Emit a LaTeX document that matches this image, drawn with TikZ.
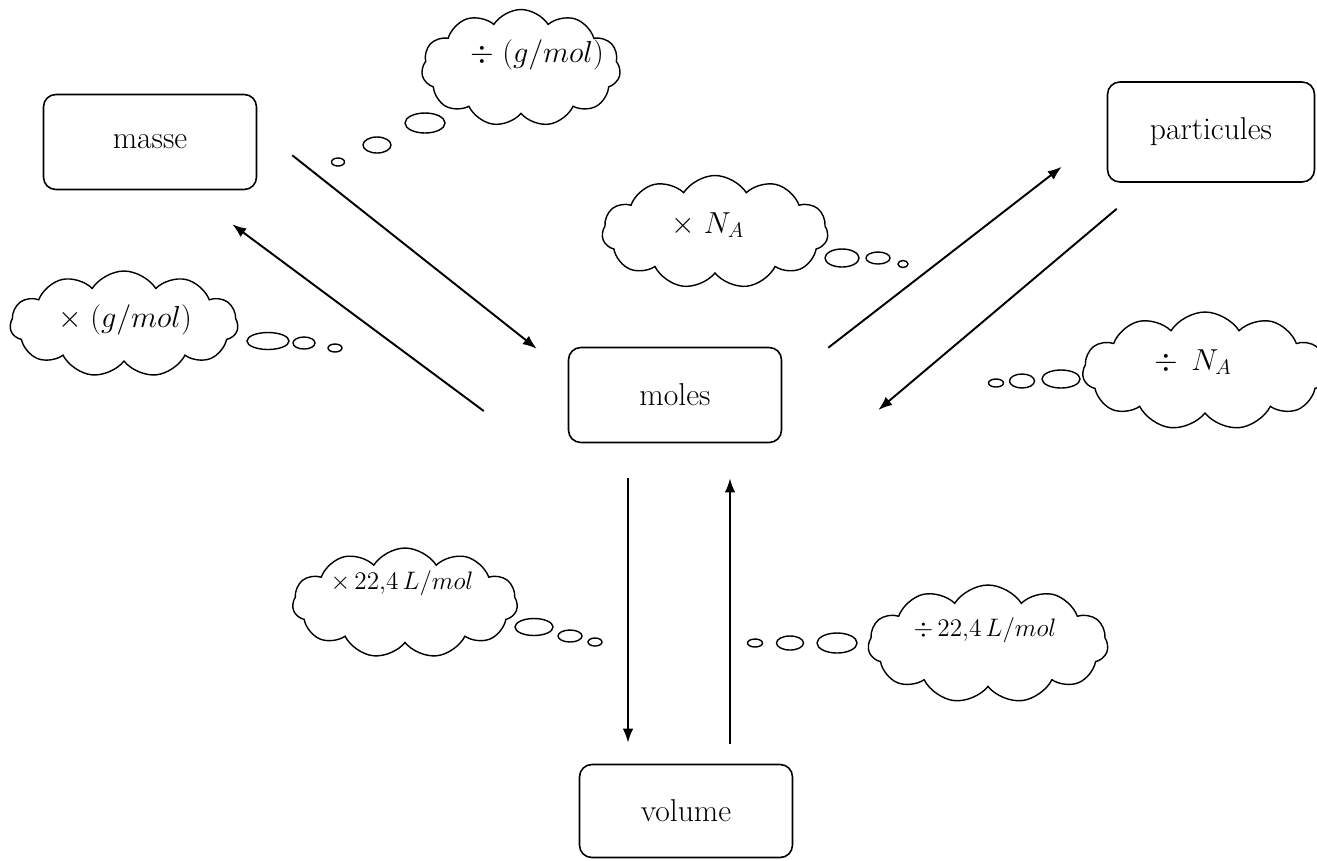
\documentclass[tikz,border=0pt]{standalone}
\usetikzlibrary{arrows.meta,shapes.symbols,calc}
\begin{document}
\begin{tikzpicture}[x=0.02cm,y=-0.02cm,
  box/.style={draw,rounded corners=7pt,line width=0.9pt,
    font=\fontsize{18}{21}\selectfont,minimum width=4.26cm,minimum height=1.9cm},
  thought/.style={draw,cloud,cloud puffs=11,cloud puff arc=115,
    cloud ignores aspect,line width=0.8pt,inner sep=0pt},
  bubble/.style={line width=0.8pt},
  rule/.style={font=\fontsize{18}{21}\selectfont},
  small/.style={font=\fontsize{14}{17}\selectfont},
  flow/.style={-{Latex[length=2.8mm,width=2.1mm]},line width=1.1pt}]
\useasboundingbox (0,0) rectangle (1317,860);
% the four quantities
\node[box] (masse) at (150,142) {masse};
\node[box,minimum width=4.14cm,minimum height=2cm] (part) at (1211,132) {particules};
\node[box] (moles) at (675,395) {moles};
\node[box,minimum height=1.86cm] (volume) at (686,811) {volume};
% thought clouds
\node[thought,minimum width=3.98cm,minimum height=2.34cm] (cdivm) at (521,68) {};
\node[rule] (tdivm) at (537,55) {$\div\;(g/mol)$};
\node[thought,minimum width=4.52cm,minimum height=2.26cm] (cmulna) at (715,232) {};
\node[rule] (tmulna) at (708,225) {$\times\;N_A$};
\node[thought,minimum width=4.56cm,minimum height=2.12cm] (cmulm) at (124,324) {};
\node[rule] (tmulm) at (125,320) {$\times\;(g/mol)$};
\node[thought,minimum width=4.9cm,minimum height=2.36cm] (cdivna) at (1205,371) {};
\node[rule] (tdivna) at (1193,362) {$\div\;\,N_A$};
\node[thought,minimum width=4.5cm,minimum height=2.2cm] (cmulv) at (405,603) {};
\node[small] (tmulv) at (402,583) {$\times\,22{,}4\,L/mol$};
\node[thought,minimum width=4.8cm,minimum height=2.36cm] (cdivv) at (988,644) {};
\node[small] (tdivv) at (985,630) {$\div\,22{,}4\,L/mol$};
% small bubbles
\foreach \cx/\cy/\rx/\ry in {425/123/20/10, 377/145/14/8, 338/162/6.5/4,
    842/258/17/9, 878/258/12/6, 903/264/5/3.5,
    268/341/21/8.5, 304/343/11/6, 335/348/7/4,
    1061/379/19/9, 1022/381/12.5/7, 996/383/7.5/4,
    534/627/19/8.5, 570/636/12/6, 595/642/7/4,
    837/643/20/10, 790/643/13.5/7, 755/643/7.5/4}
  \draw[bubble] (\cx,\cy) ellipse [x radius=\rx, y radius=\ry];
% conversions
\draw[flow] ($(masse.south east)+(35,-35)$) -- ($(moles.north west)+(-31,2)$);
\draw[flow] ($(moles.west)+(-84,16)$) -- ($(masse.south east)+(-25,34)$);
\draw[flow] ($(moles.north east)+(46,1)$) -- ($(part.south west)+(-45,-16)$);
\draw[flow] ($(part.south west)+(10,26)$) -- ($(moles.east)+(96,15)$);
\draw[flow] ($(moles.south)+(-47,35)$) -- ($(volume.north)+(-58,-21)$);
\draw[flow] ($(volume.north)+(44,-20)$) -- ($(moles.south)+(55,35)$);
\end{tikzpicture}
\end{document}
